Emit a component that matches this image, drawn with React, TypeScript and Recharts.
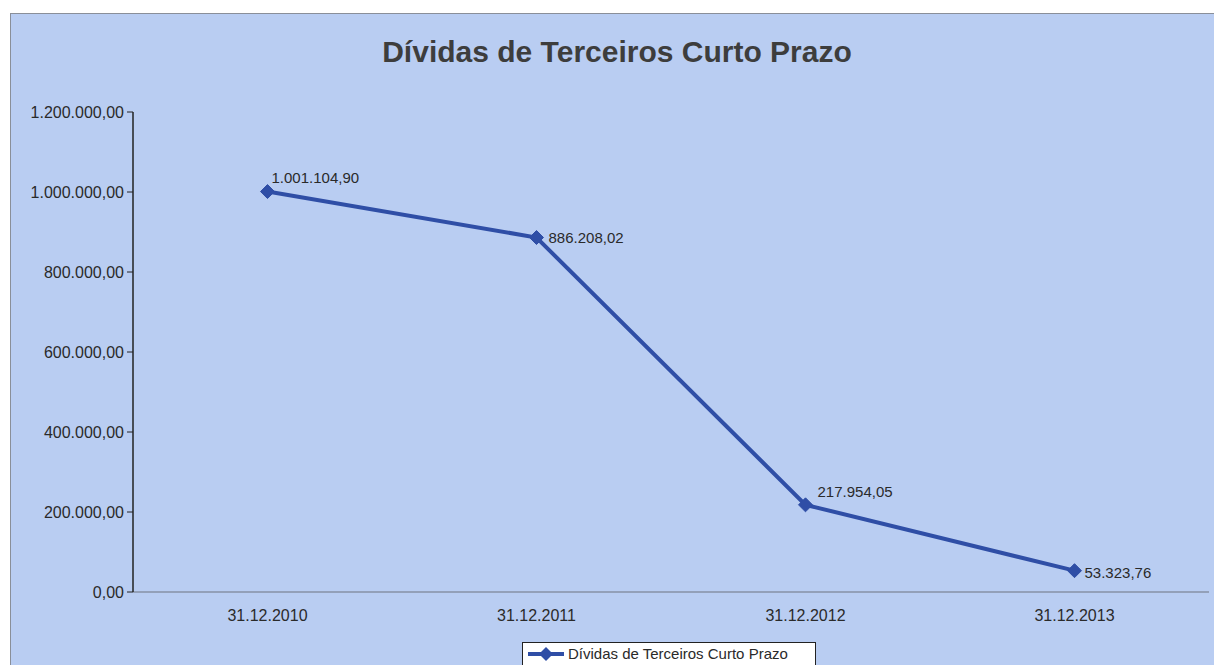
import { LineChart, Line, XAxis, YAxis } from 'recharts'

const dates = ['31.12.2010', '31.12.2011', '31.12.2012', '31.12.2013']
const dividas = [1001104.9, 886208.02, 217954.05, 53323.76]
const yTicks = [0, 200000, 400000, 600000, 800000, 1000000, 1200000]
const boundaryTicks = [0, 1, 2, 3, 4]

const seriesName = 'Dívidas de Terceiros Curto Prazo'
const blue = '#2f4ea6'
const font = '"Liberation Sans", Arial, sans-serif'

const data = dates.map((d, i) => ({ date: d, valor: dividas[i], pos: i + 0.5 }))

// 1234567.8 -> "1.234.567,80"
const fmt = (v: number) => {
  const [int, dec] = Math.abs(v).toFixed(2).split('.')
  return int.replace(/\B(?=(\d{3})+(?!\d))/g, '.') + ',' + dec
}

const Diamond = (props: any) => {
  const { cx, cy } = props
  if (cx == null || cy == null) return null
  const r = 7
  return (
    <polygon
      points={`${cx},${cy - r} ${cx + r},${cy} ${cx},${cy + r} ${cx - r},${cy}`}
      fill={blue}
      stroke={blue}
    />
  )
}

const ValueLabel = (props: any) => {
  const { x, y, value, index } = props
  // label placement copied from the excel chart (above-right / right)
  const off = [
    [4, -14],
    [12, 0],
    [12, -13],
    [10, 2],
  ][index] || [10, 0]
  return (
    <text
      x={x + off[0]}
      y={y + off[1]}
      dy="0.35em"
      fontSize={15}
      fill="#2a2a2a"
      fontFamily={font}
    >
      {fmt(value)}
    </text>
  )
}

export default function App() {
  return (
    <div
      style={{
        position: 'absolute',
        left: 0,
        top: 0,
        width: 1214,
        height: 665,
        background: '#fff',
        overflow: 'hidden',
        fontFamily: font,
      }}
    >
      <div
        style={{
          position: 'absolute',
          left: 10,
          top: 13,
          width: 1204,
          height: 652,
          background: '#b9cdf2',
          borderTop: '1.5px solid #8a8f99',
          borderLeft: '1.5px solid #8a8f99',
          boxSizing: 'border-box',
        }}
      />
      <div
        style={{
          position: 'absolute',
          left: 0,
          width: 1234,
          top: 34,
          textAlign: 'center',
          fontSize: 30,
          lineHeight: '35px',
          fontWeight: 'bold',
          color: '#3d3d3d',
        }}
      >
        {seriesName}
      </div>
      <div style={{ position: 'absolute', left: 10, top: 13 }}>
        <LineChart
          width={1204}
          height={652}
          data={data}
          margin={{ top: 99, right: 5, bottom: 43, left: 0 }}
        >
          {/* small tick marks between the categories */}
          <XAxis
            xAxisId="b"
            dataKey="pos"
            type="number"
            domain={[0, 4]}
            ticks={boundaryTicks}
            axisLine={false}
            tickLine={{ stroke: '#5a5f6a' }}
            tickSize={4}
            tickFormatter={() => ''}
            height={0}
          />
          <XAxis
            dataKey="date"
            scale="band"
            axisLine={{ stroke: '#6f7480', strokeWidth: 1.2 }}
            tickLine={false}
            tick={{ fontSize: 16, fill: '#2a2a2a', fontFamily: font }}
            tickMargin={12}
            height={30}
          />
          <YAxis
            domain={[0, 1200000]}
            ticks={yTicks}
            width={123}
            axisLine={{ stroke: '#222', strokeWidth: 1.5 }}
            tickLine={{ stroke: '#222' }}
            tickSize={6}
            tickMargin={3}
            tickFormatter={fmt}
            tick={{ fontSize: 16, fill: '#2a2a2a', fontFamily: font }}
          />
          <Line
            dataKey="valor"
            stroke={blue}
            strokeWidth={4}
            dot={<Diamond />}
            activeDot={false}
            label={<ValueLabel />}
            isAnimationActive={false}
          />
        </LineChart>
      </div>
      <div
        style={{
          position: 'absolute',
          left: 522,
          top: 642,
          width: 294,
          height: 30,
          background: '#fff',
          border: '1.5px solid #222',
          boxSizing: 'border-box',
          display: 'flex',
          alignItems: 'flex-start',
          paddingTop: 2,
          paddingLeft: 4,
          fontSize: 15,
          color: '#2a2a2a',
        }}
      >
        <svg width={38} height={18} style={{ marginRight: 3 }}>
          <line x1={1} y1={9} x2={37} y2={9} stroke={blue} strokeWidth={4} />
          <polygon points="19,2 26,9 19,16 12,9" fill={blue} />
        </svg>
        <span style={{ lineHeight: '18px' }}>{seriesName}</span>
      </div>
    </div>
  )
}
